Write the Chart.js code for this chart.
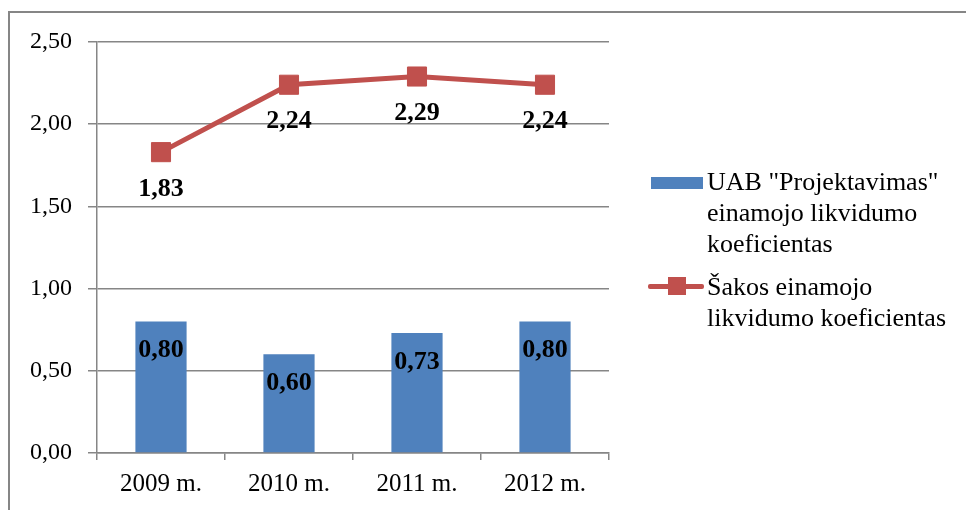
<!DOCTYPE html>
<html>
<head>
<meta charset="utf-8">
<script src="https://cdn.jsdelivr.net/npm/chart.js@4.4.1/dist/chart.umd.min.js"></script>
<style>
  html, body { margin: 0; padding: 0; background: #fff; overflow: hidden; }
  #wrap { position: relative; width: 966px; height: 510px; }
  #frame { position: absolute; left: 8px; top: 11px; width: 1000px; height: 600px; border: 2px solid #868686; box-sizing: border-box; }
  #c { position: absolute; left: 0; top: 0; }
  .leg { position: absolute; font-family: "Liberation Serif", "Times New Roman", serif; font-size: 26px; line-height: 31px; color: #000; width: 252px; }
  .mk { position: absolute; }
</style>
</head>
<body>
<div id="wrap">
  <div id="frame"></div>
  <canvas id="c" width="966" height="510"></canvas>
  <div id="legend"></div>
</div>
<script>
// duomenys
const years = ["2009 m.", "2010 m.", "2011 m.", "2012 m."];
const companyRatio = [0.80, 0.60, 0.73, 0.80];
const sectorRatio = [1.83, 2.24, 2.29, 2.24];
const seriesNames = ['UAB "Projektavimas" einamojo likvidumo koeficientas', "Šakos einamojo likvidumo koeficientas"];
const yTicks = [0, 0.5, 1, 1.5, 2, 2.5];

const BLUE = "#4F81BD";
const RED = "#C0504D";
const GRID = "#868686";
const FONT = "'Liberation Serif', 'Times New Roman', serif";

function fmt(v){
    return v.toFixed(2).replace(".", ",");
}

// reikšmių etiketės
const valueLabels = {
    id: "valueLabels",
    afterDatasetsDraw(chart){
        const ctx = chart.ctx;
        ctx.save();
        ctx.font = "bold 26px " + FONT;
        ctx.fillStyle = "#000";
        ctx.textAlign = "center";
        ctx.textBaseline = "middle";
        chart.data.datasets.forEach((ds, i) => {
            const meta = chart.getDatasetMeta(i);
            meta.data.forEach((el, j) => {
                const off = ds.type === "bar" ? 29 : 37;
                ctx.fillText(fmt(ds.data[j]), el.x, el.y + off);
            });
        });
        ctx.restore();
    }
};

new Chart(document.getElementById("c"), {
    data: {
        labels: years,
        datasets: [
            {
                type: "line",
                label: seriesNames[1],
                data: sectorRatio,
                borderColor: RED,
                backgroundColor: RED,
                borderWidth: 5,
                pointStyle: "rect",
                pointRadius: 13.5,
                pointBorderWidth: 1,
                pointBackgroundColor: RED,
                pointBorderColor: RED,
                tension: 0,
                order: 0
            },
            {
                type: "bar",
                label: seriesNames[0],
                data: companyRatio,
                backgroundColor: BLUE,
                barPercentage: 0.4,
                categoryPercentage: 1,
                order: 1
            }
        ]
    },
    options: {
        responsive: false,
        animation: false,
        events: [],
        layout: { padding: { left: 0, top: 42, right: 357, bottom: 0 } },
        plugins: {
            legend: { display: false },
            tooltip: { enabled: false }
        },
        scales: {
            x: {
                offset: true,
                grid: { display: true, drawOnChartArea: false, offset: true, color: GRID, lineWidth: 1.5, tickLength: 7 },
                border: { color: GRID, width: 1.5 },
                ticks: { color: "#000", font: { family: FONT, size: 25 }, padding: 9 },
                afterFit(scale){ scale.height = 57; }
            },
            y: {
                min: 0,
                max: 2.5,
                afterBuildTicks(scale){ scale.ticks = yTicks.map(v => ({ value: v })); },
                grid: { color: GRID, lineWidth: 1.5, tickLength: 9 },
                border: { color: GRID, width: 1.5 },
                ticks: { color: "#000", font: { family: FONT, size: 24 }, padding: 16, callback: v => fmt(v) },
                afterFit(scale){ scale.width = 97; }
            }
        }
    },
    plugins: [valueLabels]
});

// legenda dešinėje
const legend = document.getElementById("legend");
legend.innerHTML =
    '<div class="mk" style="left:651px;top:177px;width:52px;height:12px;background:' + BLUE + '"></div>' +
    '<div class="leg" style="left:707px;top:166px">' + seriesNames[0] + '</div>' +
    '<div class="mk" style="left:648px;top:284px;width:56px;height:5px;background:' + RED + ';border-radius:2px"></div>' +
    '<div class="mk" style="left:668px;top:277px;width:18px;height:18px;background:' + RED + '"></div>' +
    '<div class="leg" style="left:707px;top:271px">' + seriesNames[1] + '</div>';
</script>
</body>
</html>
